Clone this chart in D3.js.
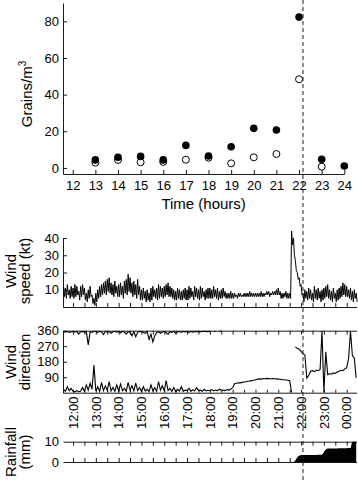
<!DOCTYPE html>
<html><head><meta charset="utf-8">
<script src="https://cdn.jsdelivr.net/npm/d3@7"></script>
<style>
body{margin:0;background:#fff}
svg{display:block}
text{font-family:"Liberation Sans",Arial,Helvetica,sans-serif;fill:#000}
</style>
</head><body>
<svg id="c" width="358" height="480"></svg>
<script>
// ---------- DATA ----------
// Top panel: pollen grains per m3 by hour
const hours = [12,13,14,15,16,17,18,19,20,21,22,23,24];
const grainsFilled = [null,4.4,5.8,6.3,4.4,12.3,6.5,11.6,21.6,20.7,82.3,4.7,1.1];
const grainsOpen   = [null,2.9,4.4,3.1,3.3,4.5,5.6,2.5,5.8,7.6,48.4,0.7,null];
const grainTicks = [0,20,40,60,80];
const grainDomain = [-3.3, 90];
const topHourDomain = [11.57, 24];

// Time series: 5-minute bins starting 11:35 (hours, 24 = midnight)
const seriesStart = 11 + 35/60;
const stepMinutes = 5;
const timeDomain = [11.56, 24.43];

// Wind speed (kt): high and low of each 5-minute bin
const speedHigh = [
 12,11,13,10,12,
 11,13,12,9,12,13,11,8,10,12,7,5,
 8,10,12,13,14,15,16,17,14,13,15,12,
 13,14,12,15,16,19,17,14,15,13,16,12,
 10,11,9,10,8,11,12,10,11,13,12,11,
 12,13,14,12,11,10,9,11,10,9,10,11,
 10,12,11,9,12,11,10,12,11,9,10,11,
 11,10,12,10,11,9,10,11,9,8,8,9,
 8,8,7,8,8,7,8,8,8,9,8,8,
 8,8,8,9,8,8,9,9,8,9,9,10,
 11,9,8,8,9,8,8,44,40,27,20,17,
 13,8,10,9,11,10,8,12,10,11,9,10,
 11,12,13,10,9,11,8,10,11,12,14,13,
 12,10,11,9,10,8
];
const speedLow = [
 6,5,7,5,6,
 5,6,7,4,6,7,4,3,5,6,2,1,
 3,5,6,7,8,7,9,8,7,6,8,6,
 6,7,5,8,7,9,8,6,7,5,7,4,
 4,5,3,4,3,4,6,5,4,5,6,5,
 6,7,6,6,5,4,4,5,4,4,5,4,
 4,5,6,4,6,5,4,5,6,4,5,5,
 5,5,6,5,4,5,5,6,5,5,5,5,
 5,6,5,6,6,6,6,6,6,6,6,6,
 6,6,6,6,6,7,7,6,7,7,7,7,
 7,5,5,6,5,5,5,36,30,21,16,12,
 7,3,5,4,5,4,3,5,4,5,3,4,
 5,6,5,4,3,5,3,4,5,6,7,6,
 6,5,4,3,5,3
];

// Wind direction (degrees): main trace and the trace near 360 (same 5-minute bins)
const dirMain = [
 20,8,35,12,25,
 8,5,12,6,10,30,8,45,15,55,20,160,
 10,35,8,60,12,40,15,65,10,30,8,45,
 10,50,12,25,8,60,15,40,10,55,12,30,
 8,35,10,20,6,45,12,30,8,65,15,40,
 10,70,12,25,8,30,6,20,10,35,8,15,
 12,25,8,18,10,30,12,15,8,20,10,14,
 12,18,10,15,12,20,14,16,12,18,15,20,
 30,52,55,58,57,60,62,64,66,68,70,72,
 75,78,80,79,82,81,83,82,80,82,81,80,
 79,78,76,75,74,72,70,2,null,265,258,252,
 240,225,219,85,100,125,128,122,130,128,135,358,
 3,238,105,110,108,115,112,120,125,130,128,138,
 145,200,355,215,200,85
];
const dirUpper = [
 355,352,356,350,354,
 356,353,355,340,354,356,352,355,278,354,350,356,
 355,350,356,353,338,355,352,356,345,354,357,352,
 355,348,356,352,340,355,350,330,354,325,352,356,
 354,350,345,356,310,340,295,330,350,354,345,352,
 355,348,340,354,350,356,345,352,355,350,356,353,
 355,350,356,352,355,354,356,353,357,355,356,354,
 356,null,357,355,null,356,357
];

// Rainfall (mm), 5-minute bins starting 21:40
const rainStart = 21 + 40/60;
const rainfall = [
 0,0.8,2.4,3.1,3.4,3.4,3.5,3.5,3.5,3.5,3.5,3.5,3.5,3.6,3.6,3.7,
 4.8,6.2,6.6,6.7,6.7,6.7,6.7,6.7,6.8,6.8,6.8,6.8,6.8,6.9,6.9,
 10,10,10
];

const speedTicks = [10,20,30,40];
const dirTicks = [90,180,270,360];
const rainTicks = [0,10];
const timeLabels = ["12:00","13:00","14:00","15:00","16:00","17:00","18:00","19:00","20:00","21:00","22:00","23:00","00:00"];
const labelHours = [12,13,14,15,16,17,18,19,20,21,22,23,24];
const eventTime = 22 + 5/60;

// ---------- DRAW ----------
const W = 358, H = 480;
const svg = d3.select("#c");
const INK = "#1a1a1a";

function styleAxis(g, fs){
  g.attr("font-family", null).attr("font-size", null);
  g.selectAll("path,line").attr("stroke", INK).attr("stroke-width", 1);
  g.selectAll("text").attr("fill", "#000").style("font-size", fs + "px");
  return g;
}
function vLabel(x, y, txt, fs){
  return svg.append("text").attr("transform", `translate(${x},${y}) rotate(-90)`)
    .attr("text-anchor", "middle").style("font-size", fs + "px").text(txt);
}

// --- Top panel ---
const xTop = d3.scaleLinear().domain(topHourDomain).range([63, 344.3]);
const yTop = d3.scaleLinear().domain(grainDomain).range([174, 3]);

styleAxis(svg.append("g").attr("transform", `translate(0,${yTop(grainDomain[0])})`)
  .call(d3.axisBottom(xTop).tickValues(hours).tickSizeInner(-4).tickSizeOuter(0).tickPadding(7)), 13);
styleAxis(svg.append("g").attr("transform", `translate(${xTop(topHourDomain[0])},0)`)
  .call(d3.axisLeft(yTop).tickValues(grainTicks).tickSizeInner(-4).tickSizeOuter(0).tickPadding(4)), 13);

const openPts = hours.map((h,i)=>({h, v:grainsOpen[i]})).filter(d=>d.v!=null);
const fillPts = hours.map((h,i)=>({h, v:grainsFilled[i]})).filter(d=>d.v!=null);
svg.append("g").selectAll("circle").data(openPts).join("circle")
  .attr("cx", d=>xTop(d.h)).attr("cy", d=>yTop(d.v)).attr("r", 3.5)
  .attr("fill", "#fff").attr("stroke", "#000").attr("stroke-width", 1);
svg.append("g").selectAll("circle").data(fillPts).join("circle")
  .attr("cx", d=>xTop(d.h)).attr("cy", d=>yTop(d.v)).attr("r", 3.8)
  .attr("fill", "#000");

const gl = svg.append("text").attr("transform", `translate(31.5,94) rotate(-90)`)
  .attr("text-anchor", "middle").style("font-size", "15px");
gl.append("tspan").text("Grains/m");
gl.append("tspan").attr("dy", -6).style("font-size", "10px").text("3");

svg.append("text").attr("x", (xTop.range()[0]+xTop.range()[1])/2).attr("y", 209)
  .attr("text-anchor", "middle").style("font-size", "15px").text("Time (hours)");

// --- Shared time scale for lower panels ---
const xB = d3.scaleLinear().domain(timeDomain).range([63, 356.5]);
const halfHours = d3.range(12, 24.01, 0.5);
const tOf = i => seriesStart + i * stepMinutes / 60;

// --- Wind speed ---
const ySpeed = d3.scaleLinear().domain([0, 40]).range([307, 238]);
styleAxis(svg.append("g").attr("transform", `translate(0,${ySpeed(0)})`)
  .call(d3.axisBottom(xB).tickValues(halfHours).tickSizeInner(-4).tickSizeOuter(0).tickFormat("")), 13);
styleAxis(svg.append("g").attr("transform", `translate(${xB(timeDomain[0])},0)`)
  .call(d3.axisLeft(ySpeed).tickValues(speedTicks).tickSizeInner(-4).tickSizeOuter(0).tickPadding(4)), 13);

const speedPts = speedHigh.flatMap((h,i)=>[[tOf(i), h],[tOf(i) + stepMinutes/120, speedLow[i]]]);
svg.append("path").datum(speedPts)
  .attr("d", d3.line().x(d=>xB(d[0])).y(d=>ySpeed(d[1])))
  .attr("fill", "none").attr("stroke", "#000").attr("stroke-width", 1).attr("stroke-linejoin", "round");

vLabel(15.5, 271, "Wind", 15);
vLabel(29.5, 271, "speed (kt)", 15);

// --- Wind direction ---
const yDir = d3.scaleLinear().domain([0, 360]).range([392.7, 330.7]);
styleAxis(svg.append("g").attr("transform", `translate(0,${yDir(0)})`)
  .call(d3.axisBottom(xB).tickValues(halfHours).tickSizeInner(-3).tickSizeOuter(0).tickFormat("")), 13);
styleAxis(svg.append("g").attr("transform", `translate(0,${yDir(360)})`)
  .call(d3.axisTop(xB).tickValues(halfHours).tickSizeInner(-4).tickSizeOuter(0).tickFormat("")), 13);
styleAxis(svg.append("g").attr("transform", `translate(${xB(timeDomain[0])},0)`)
  .call(d3.axisLeft(yDir).tickValues(dirTicks).tickSizeInner(-4).tickSizeOuter(0).tickPadding(4)), 13);

const dirLine = d3.line().defined(d=>d[1]!=null).x(d=>xB(d[0])).y(d=>yDir(d[1]));
svg.append("path").datum(dirMain.map((v,i)=>[tOf(i), v]))
  .attr("d", dirLine).attr("fill", "none").attr("stroke", "#000").attr("stroke-width", 1.1);
svg.append("path").datum(dirUpper.map((v,i)=>[tOf(i), v]))
  .attr("d", dirLine).attr("fill", "none").attr("stroke", "#000").attr("stroke-width", 1.1);

vLabel(15.5, 362, "Wind", 15);
vLabel(29.5, 362, "direction", 15);

svg.append("g").selectAll("text").data(labelHours).join("text")
  .attr("transform", (h)=>`translate(${xB(h)+4.7},396.5) rotate(-90)`)
  .attr("text-anchor", "end").style("font-size", "13px")
  .text((h,i)=>timeLabels[i]);

// --- Rainfall ---
const yRain = d3.scaleLinear().domain([0, 10]).range([462, 441.7]);
styleAxis(svg.append("g").attr("transform", `translate(0,${yRain(10)})`)
  .call(d3.axisTop(xB).tickValues(halfHours).tickSizeInner(-4).tickSizeOuter(0).tickFormat("")), 13);
styleAxis(svg.append("g").attr("transform", `translate(0,${yRain(0)})`)
  .call(d3.axisBottom(xB).tickValues(halfHours).tickSizeInner(-4).tickSizeOuter(0).tickFormat("")), 13);
const rAx = styleAxis(svg.append("g").attr("transform", `translate(${xB(timeDomain[0])},0)`)
  .call(d3.axisLeft(yRain).tickValues(rainTicks).tickSize(0).tickPadding(4)), 13);
rAx.select(".domain").remove();

svg.append("path").datum(rainfall.map((v,i)=>[rainStart + i*stepMinutes/60, v]))
  .attr("d", d3.area().curve(d3.curveMonotoneX).x(d=>xB(d[0])).y0(yRain(0)).y1(d=>yRain(d[1])))
  .attr("fill", "#000");

vLabel(15.5, 452, "Rainfall", 15);
vLabel(29.5, 452, "(mm)", 15);

// --- Event marker (dashed) ---
svg.append("line").attr("x1", xB(eventTime)).attr("x2", xB(eventTime))
  .attr("y1", 0).attr("y2", H)
  .attr("stroke", INK).attr("stroke-width", 1).attr("stroke-dasharray", "4,3");
</script>
</body></html>
